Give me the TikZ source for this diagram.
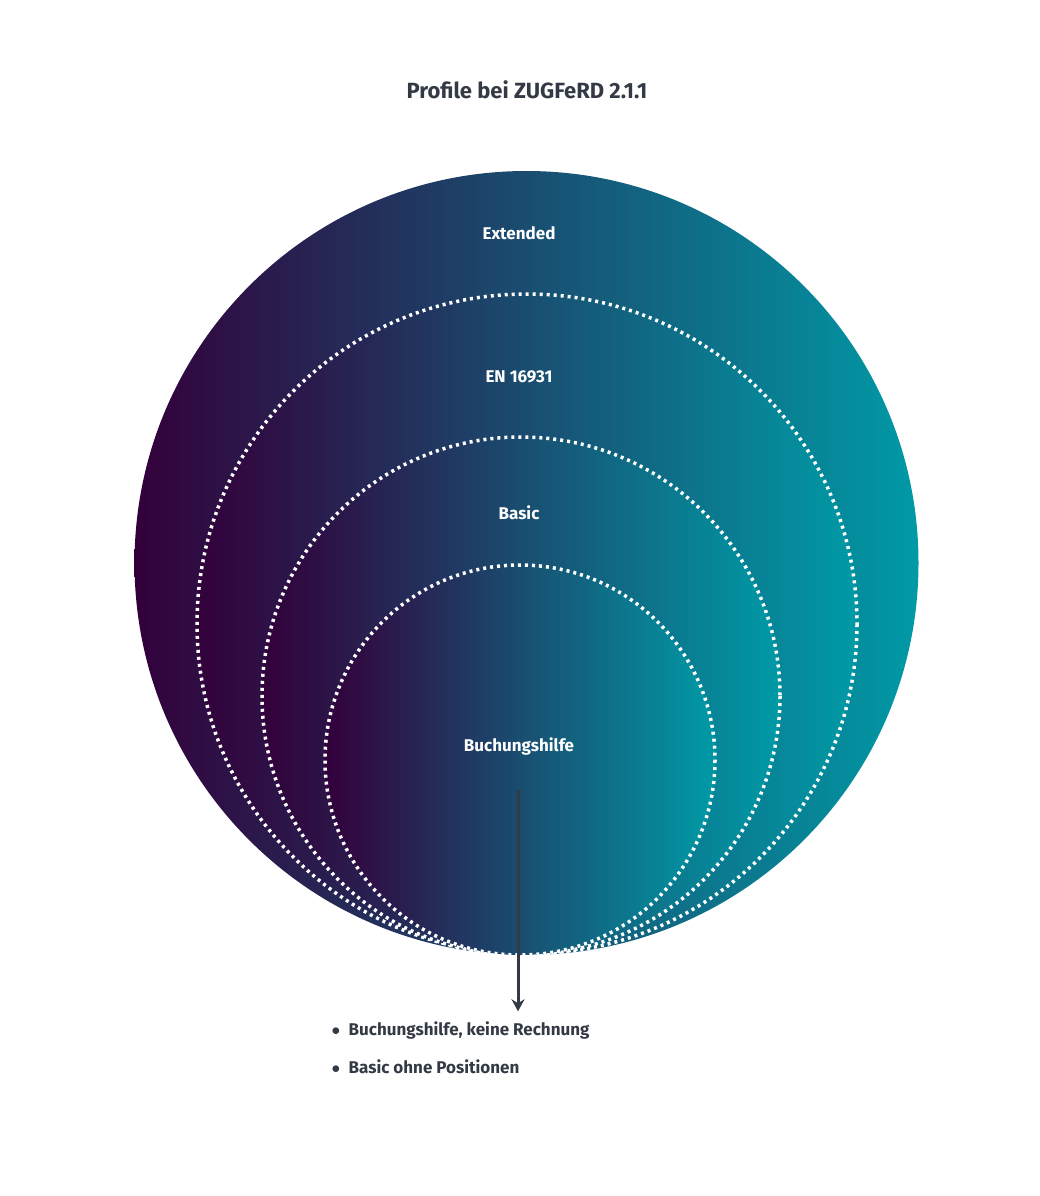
\documentclass[tikz,border=0pt]{standalone}
\usepackage{fontspec}
\setmainfont{Fira Sans}
\usetikzlibrary{arrows.meta}
\definecolor{dpurple}{HTML}{33003A}
\definecolor{teal}{HTML}{009AA6}
\definecolor{ink}{HTML}{343A45}
\begin{document}
\begin{tikzpicture}[x=1pt,y=-1pt,
  dots/.style={draw=white,line width=3.5pt,dash pattern=on 3pt off 4pt},
  lbl/.style={text=white,font=\fontsize{17}{20}\selectfont\bfseries}]
\useasboundingbox (0,0) rectangle (1040,1196);
\shade[left color=dpurple,right color=teal] (526.5,563) circle (392);
\shade[left color=dpurple,right color=teal] (527,624) circle (330);
\draw[dots] (527,624) circle (330);
\shade[left color=dpurple,right color=teal] (521,696) circle (259);
\draw[dots] (521,696) circle (259);
\shade[left color=dpurple,right color=teal] (520,760) circle (195);
\draw[dots] (520,760) circle (195);
\node[text=ink,font=\fontsize{22}{26}\selectfont\bfseries] (title) at (527,90) {Profile bei ZUGFeRD 2.1.1};
\node[lbl] (ext) at (519,233) {Extended};
\node[lbl] (en) at (519,377) {EN 16931};
\node[lbl] (bas) at (519,513) {Basic};
\node[lbl] (buch) at (519,746) {Buchungshilfe};
\coordinate (a0) at (518,790);
\node[inner sep=0pt] (a1) at (518,1012) {};
\draw[ink,line width=3pt,-{Stealth[length=12pt,width=13pt]}] (a0) -- (a1);
\node[anchor=west,text=ink,font=\fontsize{17}{20}\selectfont\bfseries] (b1) at (328,1030) {$\bullet$\enspace Buchungshilfe, keine Rechnung};
\node[anchor=west,text=ink,font=\fontsize{17}{20}\selectfont\bfseries] (b2) at (328,1067) {$\bullet$\enspace Basic ohne Positionen};
\end{tikzpicture}
\end{document}
